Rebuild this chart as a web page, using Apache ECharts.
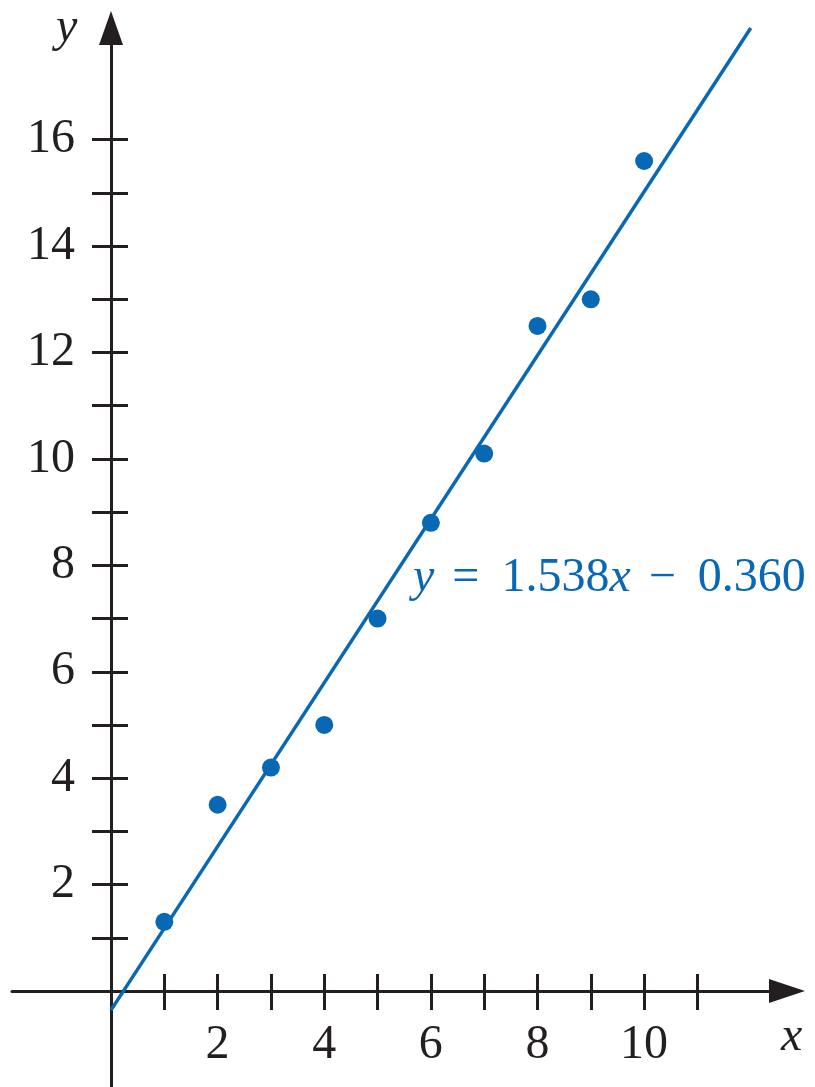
<!DOCTYPE html>
<html style="height: 100%">
<head>
<meta charset="utf-8">
<script src="https://cdn.jsdelivr.net/npm/echarts@6/dist/echarts.min.js"></script>
</head>
<body style="height: 100%; margin: 0; background: #fff">
<div id="container" style="width: 815px; height: 1087px"></div>
<script>
// data points
var xValues = [1, 2, 3, 4, 5, 6, 7, 8, 9, 10];
var yValues = [1.3, 3.5, 4.2, 5.0, 7.0, 8.8, 10.1, 12.5, 13.0, 15.6];

// ends of the fitted line y = 1.538x - 0.360
var lineX = [0, 12];
var lineY = [-0.36, 18.1];

// ticks and labels
var xTicks = [1, 2, 3, 4, 5, 6, 7, 8, 9, 10, 11];
var xLabels = [2, 4, 6, 8, 10];
var yTicks = [1, 2, 3, 4, 5, 6, 7, 8, 9, 10, 11, 12, 13, 14, 15, 16];
var yLabels = [2, 4, 6, 8, 10, 12, 14, 16];

var ink = '#231f20';
var blue = '#0868b4';
var serif = 'Liberation Serif';

var points = xValues.map(function (x, i) { return [x, yValues[i]]; });
var fitLine = lineX.map(function (x, i) { return [x, lineY[i]]; });

var myChart = echarts.init(document.getElementById('container'));

var X_MAX = 12.68, Y_MAX = 18.1;

// grid 0: full axes crossing at the origin (lines, arrows, ticks)
// grid 1: quadrant starting at the origin, only used to put labels next to the axes
function xAxisCfg(kind) {
    var main = kind === 'main';
    var labels = kind === 'labels';
    return {
        type: 'value',
        gridIndex: labels ? 1 : 0,
        position: 'bottom',
        min: labels ? 0 : -1.857, max: X_MAX,
        axisLine: {
            show: main, onZero: !labels,
            symbol: ['none', 'triangle'], symbolSize: [24, 36],
            lineStyle: { color: ink, width: 3 }
        },
        axisTick: {
            show: !labels, inside: !main, length: main ? 19 : 17,
            customValues: xTicks,
            lineStyle: { color: ink, width: 3 }
        },
        axisLabel: {
            show: labels, customValues: xLabels, margin: 30,
            color: ink, fontFamily: serif, fontSize: 48
        },
        splitLine: { show: false }
    };
}

function yAxisCfg(kind) {
    var main = kind === 'main';
    var labels = kind === 'labels';
    return {
        type: 'value',
        gridIndex: labels ? 1 : 0,
        position: 'left',
        min: labels ? 0 : -1.805, max: Y_MAX,
        axisLine: {
            show: main, onZero: !labels,
            symbol: ['none', 'triangle'], symbolSize: [24, 34],
            lineStyle: { color: ink, width: 3 }
        },
        axisTick: {
            show: !labels, inside: !main, length: main ? 19 : 17,
            customValues: yTicks,
            lineStyle: { color: ink, width: 3 }
        },
        axisLabel: {
            show: labels, customValues: yLabels, margin: 36,
            color: ink, fontFamily: serif, fontSize: 48
        },
        splitLine: { show: false }
    };
}

var option = {
    animation: false,
    grid: [
        { left: 12, right: 28, top: 28, bottom: 0, outerBoundsMode: 'none' },
        { left: 111, right: 28, top: 28, bottom: 96, outerBoundsMode: 'none' }
    ],
    xAxis: [xAxisCfg('main'), xAxisCfg('inner'), xAxisCfg('labels')],
    yAxis: [yAxisCfg('main'), yAxisCfg('inner'), yAxisCfg('labels')],
    graphic: [
        {
            type: 'text', left: 56, top: 4,
            style: { text: 'y', font: 'italic 48px ' + serif, fill: ink }
        },
        {
            type: 'text', left: 781, top: 1013,
            style: { text: 'x', font: 'italic 48px ' + serif, fill: ink }
        },
        {
            type: 'text', left: 413, top: 554,
            style: {
                text: '{i|y}{op|=}1.538{i|x}{op|−}0.360',
                font: '48px ' + serif, fill: blue,
                rich: {
                    i: { fontStyle: 'italic', fontFamily: serif, fontSize: 48, fill: blue },
                    op: { fontFamily: serif, fontSize: 48, fill: blue, padding: [0, 22, 0, 18] }
                }
            }
        }
    ],
    series: [
        {
            type: 'line', data: fitLine, showSymbol: false, silent: true,
            xAxisIndex: 0, yAxisIndex: 0,
            lineStyle: { color: blue, width: 3.5 }
        },
        {
            type: 'scatter', data: points, symbolSize: 18,
            xAxisIndex: 0, yAxisIndex: 0,
            itemStyle: { color: blue, opacity: 1 }
        }
    ]
};

myChart.setOption(option);
</script>
</body>
</html>
